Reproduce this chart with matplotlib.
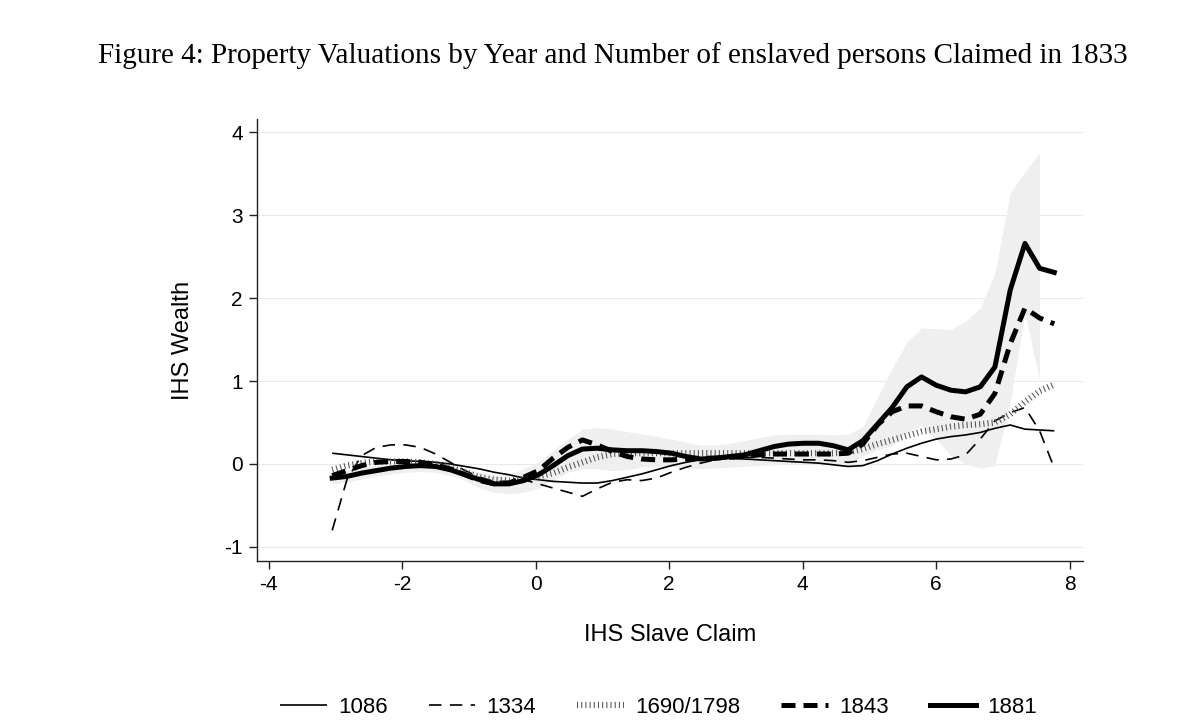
import matplotlib
matplotlib.use("Agg")
import matplotlib.pyplot as plt

# evaluation grid (IHS Slave Claim)
x = [-3.05, -2.83, -2.61, -2.39, -2.17, -1.95, -1.73, -1.50, -1.28, -1.06,
     -0.84, -0.62, -0.40, -0.18, 0.04, 0.26, 0.48, 0.70, 0.92, 1.15,
     1.37, 1.59, 1.81, 2.03, 2.25, 2.47, 2.69, 2.91, 3.13, 3.35,
     3.57, 3.79, 4.02, 4.24, 4.46, 4.68, 4.90, 5.12, 5.34, 5.56,
     5.78, 6.00, 6.22, 6.44, 6.66, 6.88, 7.11, 7.33, 7.55, 7.77]

y1086 = [0.13, 0.11, 0.09, 0.07, 0.05, 0.04, 0.03, 0.02, 0.00, -0.03,
         -0.06, -0.10, -0.13, -0.17, -0.19, -0.21, -0.22, -0.23, -0.23, -0.20,
         -0.16, -0.12, -0.07, -0.02, 0.02, 0.05, 0.07, 0.07, 0.06, 0.05,
         0.04, 0.03, 0.02, 0.01, -0.01, -0.03, -0.02, 0.04, 0.12, 0.19,
         0.25, 0.30, 0.33, 0.35, 0.38, 0.43, 0.47, 0.42, 0.41, 0.40]

y1334 = [-0.80, -0.19, 0.10, 0.20, 0.23, 0.23, 0.20, 0.12, 0.02, -0.08,
         -0.16, -0.21, -0.21, -0.19, -0.24, -0.29, -0.34, -0.39, -0.30, -0.22,
         -0.19, -0.20, -0.17, -0.10, -0.04, 0.01, 0.05, 0.07, 0.08, 0.08,
         0.07, 0.06, 0.05, 0.05, 0.04, 0.02, 0.04, 0.08, 0.12, 0.13,
         0.09, 0.05, 0.06, 0.11, 0.30, 0.52, 0.62, 0.68, 0.40, -0.05]

y1690 = [-0.07, -0.02, 0.01, 0.03, 0.03, 0.03, 0.02, 0.00, -0.04, -0.10,
         -0.16, -0.19, -0.20, -0.18, -0.15, -0.11, -0.04, 0.02, 0.08, 0.12,
         0.13, 0.13, 0.13, 0.13, 0.13, 0.13, 0.13, 0.13, 0.13, 0.13,
         0.13, 0.13, 0.13, 0.13, 0.13, 0.14, 0.18, 0.24, 0.29, 0.34,
         0.39, 0.42, 0.45, 0.47, 0.48, 0.50, 0.60, 0.75, 0.88, 0.96]

y1843 = [-0.14, -0.08, -0.02, 0.02, 0.03, 0.03, 0.02, -0.01, -0.06, -0.13,
         -0.20, -0.24, -0.23, -0.16, -0.08, 0.07, 0.20, 0.29, 0.23, 0.15,
         0.09, 0.06, 0.05, 0.05, 0.06, 0.07, 0.07, 0.08, 0.09, 0.11,
         0.12, 0.12, 0.12, 0.12, 0.12, 0.13, 0.24, 0.47, 0.63, 0.70,
         0.70, 0.63, 0.57, 0.54, 0.60, 0.85, 1.45, 1.88, 1.76, 1.69]

y1881 = [-0.17, -0.15, -0.11, -0.08, -0.05, -0.03, -0.02, -0.03, -0.07, -0.13,
         -0.19, -0.24, -0.24, -0.20, -0.13, -0.02, 0.10, 0.18, 0.19, 0.17,
         0.16, 0.16, 0.15, 0.13, 0.09, 0.06, 0.07, 0.09, 0.11, 0.16,
         0.21, 0.24, 0.25, 0.25, 0.22, 0.17, 0.28, 0.48, 0.68, 0.93,
         1.05, 0.95, 0.89, 0.87, 0.93, 1.17, 2.10, 2.66, 2.36, 2.31]

# 95% band (1881), defined up to x = 7.55
ci_hi = [-0.10, -0.08, -0.04, -0.01, 0.02, 0.04, 0.05, 0.04, 0.00, -0.06,
         -0.10, -0.14, -0.12, -0.06, 0.03, 0.16, 0.30, 0.42, 0.44, 0.42,
         0.39, 0.36, 0.33, 0.30, 0.26, 0.23, 0.23, 0.25, 0.28, 0.32,
         0.35, 0.36, 0.36, 0.36, 0.35, 0.36, 0.45, 0.80, 1.15, 1.47,
         1.64, 1.63, 1.62, 1.72, 1.88, 2.30, 3.27, 3.52, 3.75]
ci_lo = [-0.24, -0.22, -0.18, -0.15, -0.12, -0.10, -0.09, -0.10, -0.14, -0.20,
         -0.29, -0.34, -0.36, -0.34, -0.29, -0.20, -0.10, -0.06, -0.06, -0.08,
         -0.07, -0.04, -0.03, -0.03, -0.05, -0.06, -0.05, -0.04, -0.03, -0.02,
         -0.01, 0.00, 0.00, 0.00, -0.01, -0.02, 0.10, 0.17, 0.22, 0.38,
         0.46, 0.30, 0.10, 0.00, -0.05, -0.02, 0.75, 1.82, 1.00]

labels = ["1086", "1334", "1690/1798", "1843", "1881"]
xticks = [-4, -2, 0, 2, 4, 6, 8]
yticks = [-1, 0, 1, 2, 3, 4]

plt.rcParams['font.family'] = ['Liberation Sans', 'DejaVu Sans']

fig = plt.figure(figsize=(12, 7.26), dpi=100)
ax = fig.add_axes([0.214, 0.2273, 0.6885, 0.6087])

ax.fill_between(x[:len(ci_hi)], ci_lo, ci_hi, color='#efefef', lw=0, zorder=1)

ax.plot(x, y1086, color='black', lw=1.2, solid_capstyle='butt', label=labels[0], zorder=3)
ax.plot(x, y1334, color='black', lw=1.2, linestyle=(0, (7.5, 5)), label=labels[1], zorder=3)
ax.plot(x, y1690, color='#555555', lw=4.5, linestyle=(0, (0.17, 0.5)), label=labels[2], zorder=3)
ax.plot(x, y1843, color='black', lw=3.6, linestyle=(0, (2.8, 1.6)), label=labels[3], zorder=4)
ax.plot(x, y1881, color='black', lw=3.6, label=labels[4], zorder=4)

ax.set_xlim(-4.18, 8.2)
ax.set_ylim(-1.17, 4.16)
ax.set_xticks(xticks)
ax.set_yticks(yticks)
ax.set_yticklabels([str(t) for t in yticks])
ax.set_xticklabels([str(t) for t in xticks])
ax.grid(axis='y', color='#eaeaea', lw=0.8)
ax.set_axisbelow(True)
for s in ['top', 'right']:
    ax.spines[s].set_visible(False)
for s in ['left', 'bottom']:
    ax.spines[s].set_color('#222222')
    ax.spines[s].set_linewidth(1.0)
ax.tick_params(axis='both', direction='out', length=6, width=1.0, color='#222222',
               labelsize=15, pad=4)

ax.set_xlabel("IHS Slave Claim", fontsize=17, labelpad=22)
ax.set_ylabel("IHS Wealth", fontsize=17, labelpad=22)

fig.text(0.511, 0.924, "Figure 4: Property Valuations by Year and Number of enslaved persons Claimed in 1833",
         ha='center', va='center', fontsize=21, family=['Liberation Serif', 'DejaVu Serif'])

h, l = ax.get_legend_handles_labels()
fig.legend(h, l, loc='center', bbox_to_anchor=(0.549, 0.026), ncol=5, frameon=False,
           fontsize=16, handlelength=2.1, columnspacing=1.85, handletextpad=0.5)

fig.savefig("out.png", dpi=100)
